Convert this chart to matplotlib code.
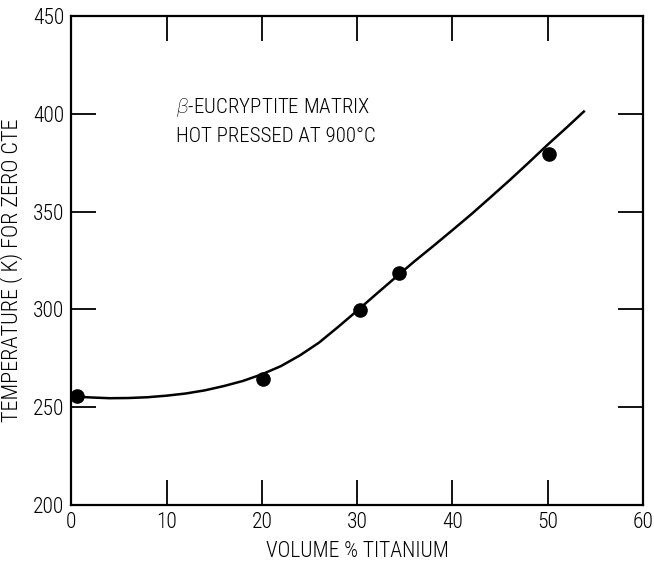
import matplotlib
matplotlib.use("Agg")
import matplotlib.pyplot as plt

plt.rcParams['font.family'] = ['Roboto Condensed', 'Liberation Sans Narrow', 'DejaVu Sans Condensed',
                               'Roboto', 'DejaVu Sans']
plt.rcParams['font.stretch'] = 'condensed'
plt.rcParams['font.weight'] = 'light'
plt.rcParams['axes.labelweight'] = 'light'
plt.rcParams['mathtext.fontset'] = 'custom'
plt.rcParams['mathtext.it'] = 'Roboto:italic'
plt.rcParams['mathtext.rm'] = 'Roboto Condensed'

# measured data points
pts_x = [0.6, 20.1, 30.3, 34.4, 50.15]
pts_y = [255.5, 264.3, 299.5, 318.8, 379.5]

# fitted curve
curve_x = [0.3, 2, 4, 6, 8, 10, 12, 14, 16, 18, 20, 22, 24, 26, 28, 30,
           32, 34, 36, 38, 40, 42, 44, 46, 48, 50, 52, 53.9]
curve_y = [255.5, 255.0, 254.6, 254.7, 255.1, 255.9, 257.0, 258.6, 260.8, 263.4, 266.8,
           271.0, 276.5, 283.0, 291.0, 299.3, 307.8, 316.2, 324.5, 332.4, 340.5, 348.7,
           357.3, 366.0, 375.0, 384.2, 393.0, 401.6]

x_ticks = [0, 10, 20, 30, 40, 50, 60]
y_ticks = [200, 250, 300, 350, 400, 450]

fig = plt.figure(figsize=(6.54, 5.64), dpi=100)
ax = fig.add_axes([0.109, 0.1046, 0.874, 0.867])

ax.plot(curve_x, curve_y, color='black', lw=1.8, solid_capstyle='butt', solid_joinstyle='round')
ax.plot(pts_x, pts_y, 'o', color='black', ms=9.5, zorder=3)

ax.set_xlim(0, 60)
ax.set_ylim(200, 450)
ax.set_xticks(x_ticks)
ax.set_yticks(y_ticks)
ax.tick_params(direction='in', length=18, width=1.3, top=True, right=True,
               labelsize=15.5, pad=5, colors='black')
for s in ax.spines.values():
    s.set_linewidth(1.6)

ax.set_xlabel('VOLUME % TITANIUM', fontsize=15.5, labelpad=6, fontweight='light')
ax.set_ylabel('TEMPERATURE ( K) FOR ZERO CTE', fontsize=16, labelpad=4, fontweight='light')
ax.yaxis.set_label_coords(-0.085, 0.48)

ax.text(0.183, 0.735, r'$\it{\beta}$-EUCRYPTITE MATRIX' + '\nHOT PRESSED AT 900°C',
        transform=ax.transAxes, fontsize=15, va='bottom', ha='left', linespacing=1.5)

fig.savefig('out.png', dpi=100)
